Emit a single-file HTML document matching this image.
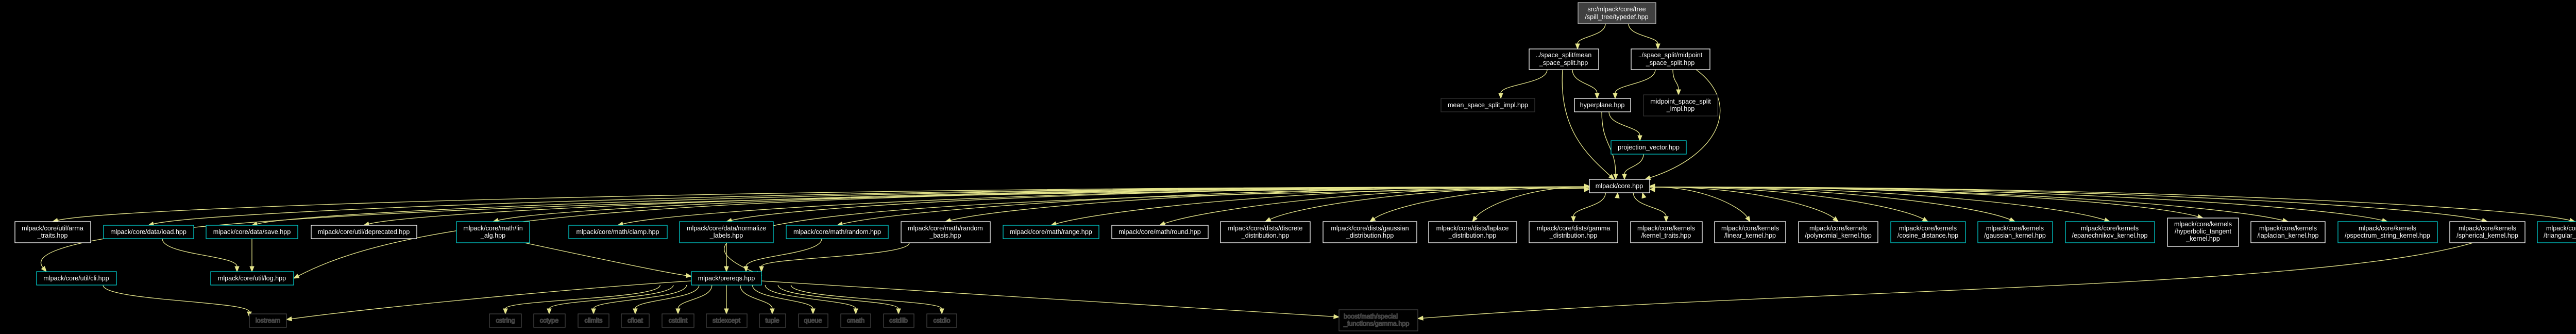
<!DOCTYPE html>
<html><head><meta charset="utf-8"><style>
html,body{margin:0;padding:0;background:#000;}
svg{display:block}
text{font-family:"Liberation Sans",sans-serif;font-size:12.6px;fill:#fff;text-anchor:middle}
</style></head><body>
<svg id="s" width="5077" height="648" viewBox="0 0 5077 648" xmlns="http://www.w3.org/2000/svg">
<g id="edges"></g>
<g id="nodes" stroke-width="1.3">
<rect x="3063" y="5" width="151" height="41" fill="#404040" stroke="#bbb"/>
<text x="3138" y="22">src/mlpack/core/tree</text><text x="3138" y="37">/spill_tree/typedef.hpp</text>
<rect x="2968" y="95" width="135" height="40" fill="#000" stroke="#fff"/>
<text x="3035" y="111">../space_split/mean</text><text x="3035" y="126">_space_split.hpp</text>
<rect x="3166" y="95" width="153" height="40" fill="#000" stroke="#fff"/>
<text x="3242" y="111">../space_split/midpoint</text><text x="3242" y="126">_space_split.hpp</text>
<rect x="2797" y="191" width="182" height="26" fill="#000" stroke="#333"/>
<text x="2888" y="208">mean_space_split_impl.hpp</text>
<rect x="3056" y="191" width="109" height="26" fill="#000" stroke="#fff"/>
<text x="3110" y="208">hyperplane.hpp</text>
<rect x="3190" y="184" width="144" height="41" fill="#000" stroke="#333"/>
<text x="3262" y="201">midpoint_space_split</text><text x="3262" y="215">_impl.hpp</text>
<rect x="3127" y="273" width="146" height="26" fill="#000" stroke="#0cc"/>
<text x="3200" y="290">projection_vector.hpp</text>
<rect x="3085" y="348" width="117" height="26" fill="#000" stroke="#fff"/>
<text x="3143" y="365">mlpack/core.hpp</text>

<g fill="#000">
<rect x="29" y="430" width="147" height="41" stroke="#fff"/><text x="102" y="447">mlpack/core/util/arma</text><text x="102" y="461">_traits.hpp</text>
<rect x="201" y="437" width="175" height="26" stroke="#0cc"/><text x="288" y="454">mlpack/core/data/load.hpp</text>
<rect x="400" y="437" width="178" height="26" stroke="#0cc"/><text x="489" y="454">mlpack/core/data/save.hpp</text>
<rect x="604" y="437" width="205" height="26" stroke="#fff"/><text x="706" y="454">mlpack/core/util/deprecated.hpp</text>
<rect x="886" y="430" width="142" height="41" stroke="#0cc"/><text x="957" y="447">mlpack/core/math/lin</text><text x="957" y="461">_alg.hpp</text>
<rect x="1104" y="437" width="191" height="26" stroke="#0cc"/><text x="1199" y="454">mlpack/core/math/clamp.hpp</text>
<rect x="1319" y="430" width="182" height="41" stroke="#0cc"/><text x="1410" y="447">mlpack/core/data/normalize</text><text x="1410" y="461">_labels.hpp</text>
<rect x="1526" y="437" width="198" height="26" stroke="#0cc"/><text x="1625" y="454">mlpack/core/math/random.hpp</text>
<rect x="1749" y="430" width="173" height="41" stroke="#fff"/><text x="1835" y="447">mlpack/core/math/random</text><text x="1835" y="461">_basis.hpp</text>
<rect x="1947" y="437" width="186" height="26" stroke="#0cc"/><text x="2040" y="454">mlpack/core/math/range.hpp</text>
<rect x="2158" y="437" width="187" height="26" stroke="#fff"/><text x="2251" y="454">mlpack/core/math/round.hpp</text>
<rect x="2369" y="430" width="174" height="41" stroke="#fff"/><text x="2456" y="447">mlpack/core/dists/discrete</text><text x="2456" y="461">_distribution.hpp</text>
<rect x="2568" y="430" width="182" height="41" stroke="#fff"/><text x="2659" y="447">mlpack/core/dists/gaussian</text><text x="2659" y="461">_distribution.hpp</text>
<rect x="2773" y="430" width="171" height="41" stroke="#fff"/><text x="2858" y="447">mlpack/core/dists/laplace</text><text x="2858" y="461">_distribution.hpp</text>
<rect x="2968" y="430" width="172" height="41" stroke="#fff"/><text x="3054" y="447">mlpack/core/dists/gamma</text><text x="3054" y="461">_distribution.hpp</text>
<rect x="3165" y="430" width="139" height="41" stroke="#fff"/><text x="3234" y="447">mlpack/core/kernels</text><text x="3234" y="461">/kernel_traits.hpp</text>
<rect x="3328" y="430" width="138" height="41" stroke="#fff"/><text x="3397" y="447">mlpack/core/kernels</text><text x="3397" y="461">/linear_kernel.hpp</text>
<rect x="3491" y="430" width="154" height="41" stroke="#fff"/><text x="3568" y="447">mlpack/core/kernels</text><text x="3568" y="461">/polynomial_kernel.hpp</text>
<rect x="3670" y="430" width="145" height="41" stroke="#0cc"/><text x="3742" y="447">mlpack/core/kernels</text><text x="3742" y="461">/cosine_distance.hpp</text>
<rect x="3839" y="430" width="145" height="41" stroke="#0cc"/><text x="3911" y="447">mlpack/core/kernels</text><text x="3911" y="461">/gaussian_kernel.hpp</text>
<rect x="4009" y="430" width="173" height="41" stroke="#0cc"/><text x="4095" y="447">mlpack/core/kernels</text><text x="4095" y="461">/epanechnikov_kernel.hpp</text>
<rect x="4207" y="423" width="138" height="55" stroke="#fff"/><text x="4276" y="439">mlpack/core/kernels</text><text x="4276" y="453">/hyperbolic_tangent</text><text x="4276" y="467">_kernel.hpp</text>
<rect x="4369" y="430" width="144" height="41" stroke="#fff"/><text x="4441" y="447">mlpack/core/kernels</text><text x="4441" y="461">/laplacian_kernel.hpp</text>
<rect x="4538" y="430" width="193" height="41" stroke="#0cc"/><text x="4634" y="447">mlpack/core/kernels</text><text x="4634" y="461">/pspectrum_string_kernel.hpp</text>
<rect x="4755" y="430" width="146" height="41" stroke="#fff"/><text x="4828" y="447">mlpack/core/kernels</text><text x="4828" y="461">/spherical_kernel.hpp</text>
<rect x="4925" y="430" width="146" height="41" stroke="#0cc"/><text x="4998" y="447">mlpack/core/kernels</text><text x="4998" y="461">/triangular_kernel.hpp</text>

<rect x="71" y="527" width="155" height="26" stroke="#0cc"/><text x="148" y="544">mlpack/core/util/cli.hpp</text>
<rect x="409" y="527" width="161" height="26" stroke="#0cc"/><text x="489" y="544">mlpack/core/util/log.hpp</text>
<rect x="1342" y="527" width="136" height="26" stroke="#0cc"/><text x="1410" y="544">mlpack/prereqs.hpp</text>

<g stroke="#444">
<rect x="484" y="609" width="72" height="26"/><text x="520" y="626">iostream</text>
<rect x="950" y="609" width="62" height="26"/><text x="981" y="626">cstring</text>
<rect x="1036" y="609" width="61" height="26"/><text x="1066" y="626">cctype</text>
<rect x="1122" y="609" width="60" height="26"/><text x="1152" y="626">climits</text>
<rect x="1206" y="609" width="54" height="26"/><text x="1233" y="626">cfloat</text>
<rect x="1285" y="609" width="62" height="26"/><text x="1316" y="626">cstdint</text>
<rect x="1371" y="609" width="79" height="26"/><text x="1410" y="626">stdexcept</text>
<rect x="1474" y="609" width="51" height="26"/><text x="1499" y="626">tuple</text>
<rect x="1550" y="609" width="57" height="26"/><text x="1578" y="626">queue</text>
<rect x="1632" y="609" width="58" height="26"/><text x="1661" y="626">cmath</text>
<rect x="1715" y="609" width="59" height="26"/><text x="1744" y="626">cstdlib</text>
<rect x="1799" y="609" width="58" height="26"/><text x="1828" y="626">cstdio</text>
<rect x="2599" y="601" width="153" height="41"/><text x="2608" y="618" style="text-anchor:start">boost/math/special</text><text x="2608" y="632" style="text-anchor:start">_functions/gamma.hpp</text>
</g>
</g>
</g>
</svg>
<script>
var C="#e6e68c",g=document.getElementById("edges"),NS="http://www.w3.org/2000/svg";
function arrow(tx,ty,dx,dy){var l=Math.hypot(dx,dy)||1;dx/=l;dy/=l;var ex=tx-dx*10,ey=ty-dy*10;
 var a=document.createElementNS(NS,"polygon");
 a.setAttribute("points",tx+","+ty+" "+(ex-dy*4)+","+(ey+dx*4)+" "+(ex+dy*4)+","+(ey-dx*4));
 a.setAttribute("fill",C);a.setAttribute("stroke",C);g.appendChild(a);return [ex,ey];}
function edge(sx,sy,c1x,c1y,c2x,c2y,tx,ty){
 var e=arrow(tx,ty,tx-c2x,ty-c2y);
 var p=document.createElementNS(NS,"path");
 p.setAttribute("d","M"+sx+","+sy+" C"+c1x+","+c1y+" "+c2x+","+c2y+" "+e[0]+","+e[1]);
 p.setAttribute("stroke",C);p.setAttribute("fill","none");p.setAttribute("stroke-width","1.3");g.appendChild(p);
}
function v(sx,sy,tx,ty){var d=(ty-sy)/2;edge(sx,sy,sx,sy+d,tx,ty-d,tx,ty);}
v(3116,46,3062,95);v(3161,46,3218,95);
v(3003,135,2913,191);v(3052,135,3100,191);v(3213,135,3135,191);v(3247,135,3258,184);
edge(3033,135,3025,250,3080,300,3133,348);
edge(3292,135,3380,200,3340,300,3193,348);
v(3109,217,3136,348);v(3123,217,3183,273);v(3190,299,3153,348);
// arrowheads into core sides
arrow(3085,361,1,0);arrow(3085,367,1,-0.1);arrow(3202,361,-1,0);arrow(3202,367,-1,-0.1);arrow(3140,374,0.1,-1);arrow(3188,374,-0.3,-1);
var T=[[102,430],[288,437],[489,437],[706,437],[957,430],[1199,437],[1410,430],[1625,437],[1835,430],[2040,437],[2251,437],[2456,430],[2659,430],[2858,430],[3054,430],[3234,430],[3397,430],[3568,430],[3742,430],[3911,430],[4095,430],[4276,423],[4441,430],[4634,430],[4828,430],[4998,430]];
T.forEach(function(t){
 var tx=t[0],ty=t[1],sx,sy;
 if(tx<2950){sx=3085;sy=363;edge(sx,sy,sx-(sx-tx)*0.5,sy-3,tx+Math.min(120,(sx-tx)*0.1),ty-30,tx,ty);}
 else if(tx>3350){sx=3202;sy=363;edge(sx,sy,sx+(tx-sx)*0.5,sy-3,tx-Math.min(120,(tx-sx)*0.1),ty-30,tx,ty);}
 else {sx=3143+(tx-3143)*0.3;v(sx,374,tx,ty);}
});
edge(3085,362,1200,380,0,420,90,527);
edge(3085,362,1300,370,800,420,570,540);
edge(3085,365,1800,380,1200,420,1478,534);
v(315,463,460,527);v(489,463,489,527);
edge(1018,471,1200,510,1300,530,1342,536);
v(1410,471,1410,527);v(1595,463,1448,527);v(1765,471,1478,527);
v(200,553,484,615);
edge(1342,545,1100,560,700,600,556,620);
[981,1066,1152,1233,1316,1410,1499,1578,1661,1744,1828].forEach(function(x){v(1410+(x-1410)*0.3,553,x,609);});
edge(1478,545,2000,580,2400,600,2599,615);
edge(4800,471,4500,560,3500,560,2752,618);
</script>
</body></html>
